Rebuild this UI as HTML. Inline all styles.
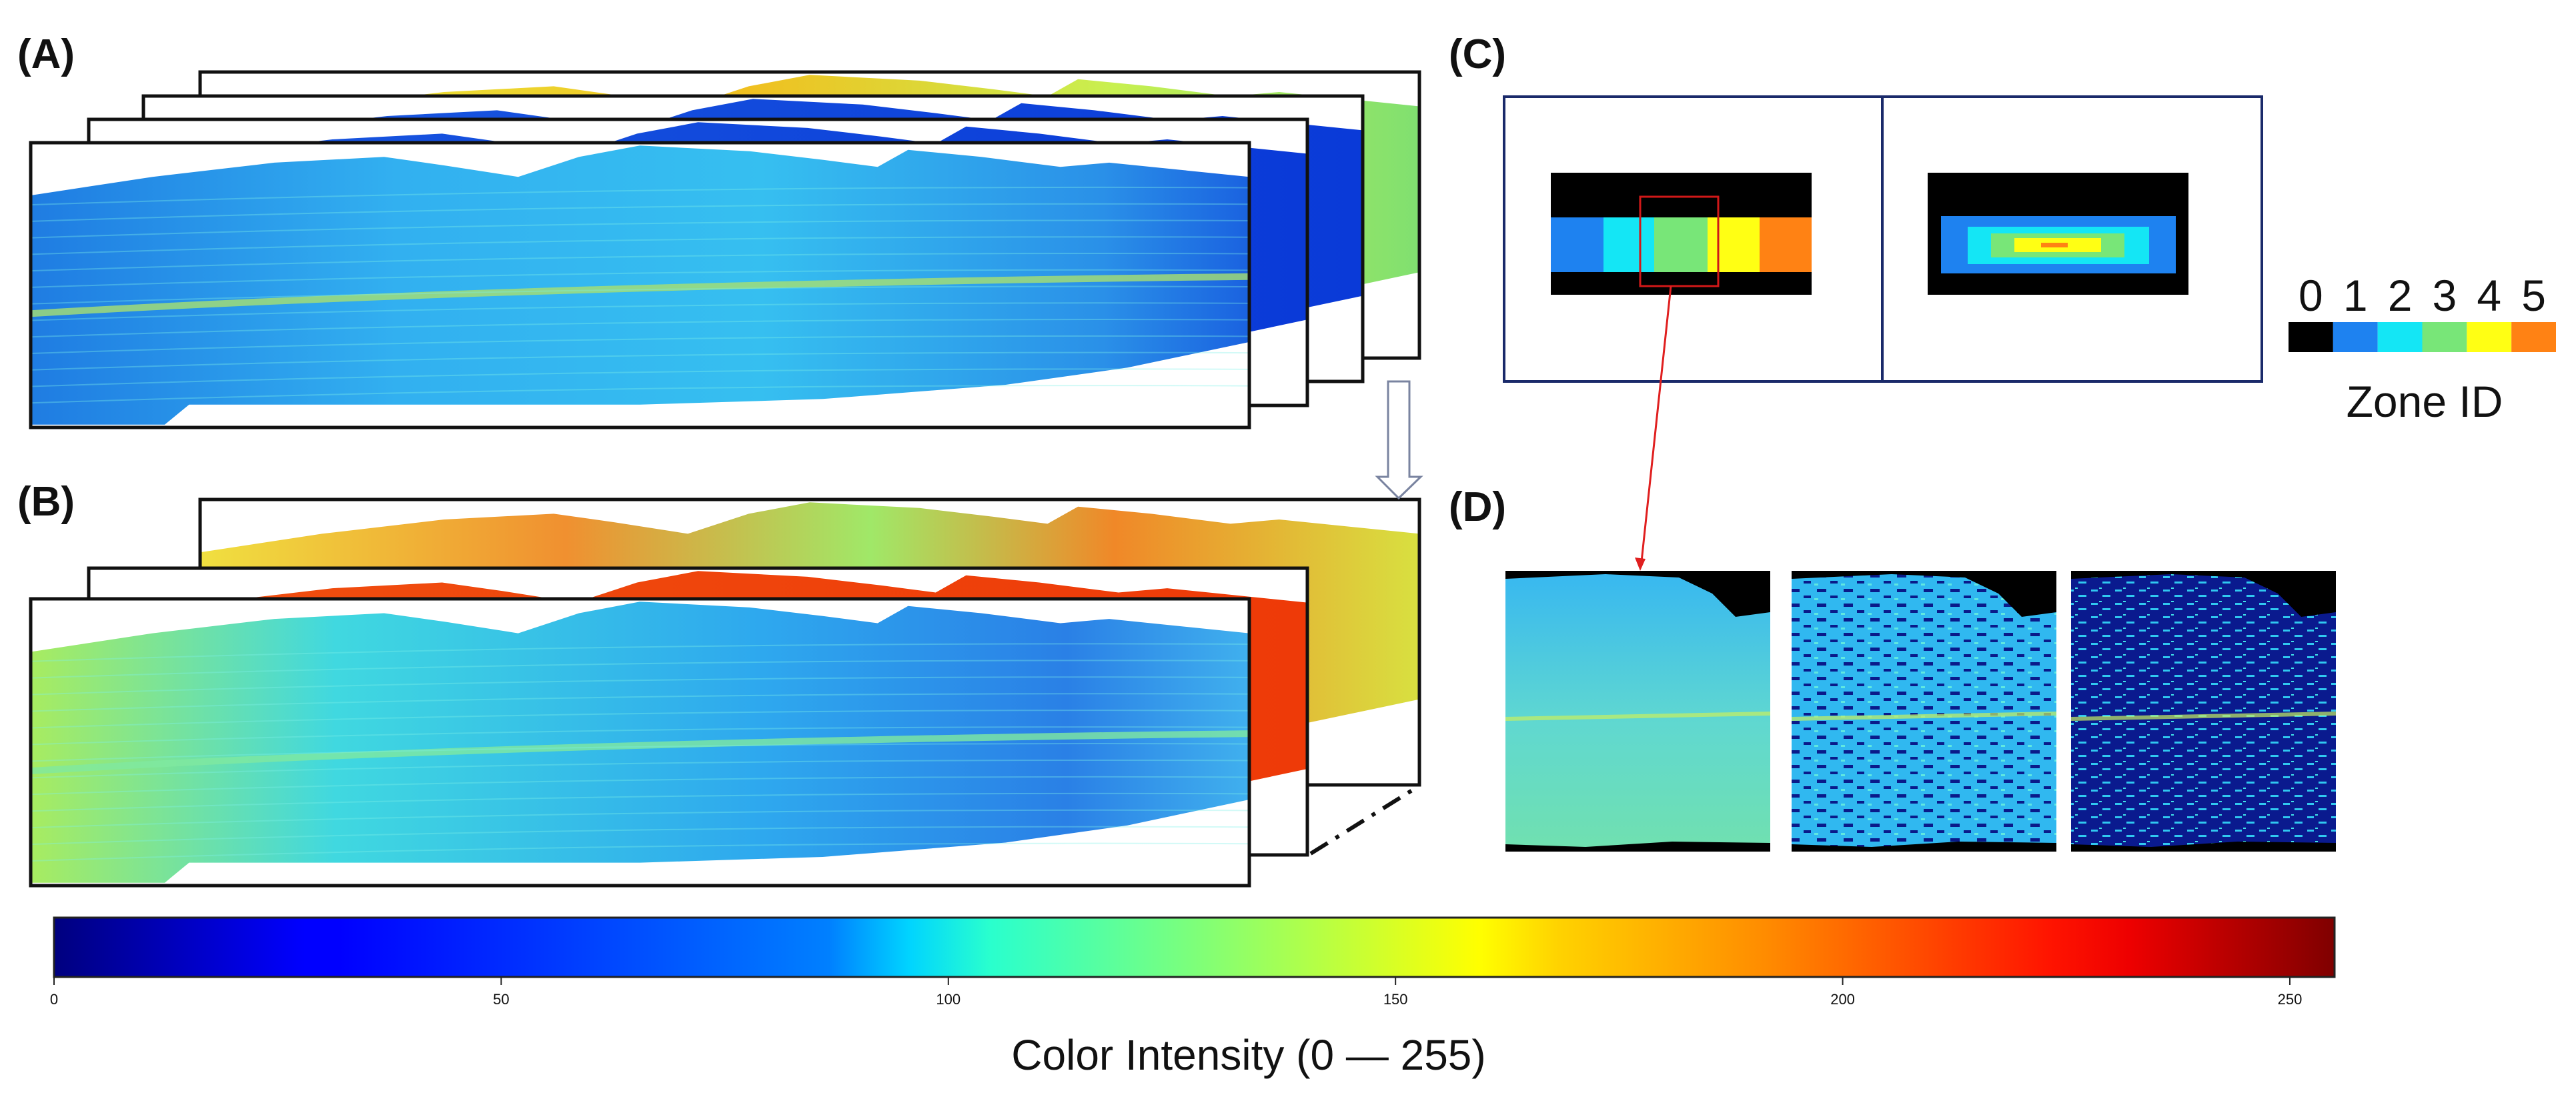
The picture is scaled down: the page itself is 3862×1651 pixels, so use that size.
<!DOCTYPE html>
<html><head><meta charset="utf-8"><style>
html,body{margin:0;padding:0;background:#fff}
svg{display:block}
text{font-family:"Liberation Sans",sans-serif}
</style></head><body>
<svg id="fig" width="3862" height="1651" viewBox="0 0 3862 1651" xmlns="http://www.w3.org/2000/svg">
<defs>
<linearGradient id="jet" x1="0" x2="1" y1="0" y2="0">
<stop offset="0" stop-color="#00007f"/><stop offset="0.11" stop-color="#0000ff"/><stop offset="0.125" stop-color="#0000ff"/>
<stop offset="0.34" stop-color="#0080ff"/><stop offset="0.375" stop-color="#00d4ff"/><stop offset="0.41" stop-color="#29ffce"/>
<stop offset="0.5" stop-color="#7dff7a"/><stop offset="0.625" stop-color="#ffff00"/><stop offset="0.66" stop-color="#ffd200"/>
<stop offset="0.75" stop-color="#ff8c00"/><stop offset="0.875" stop-color="#ff1400"/><stop offset="0.91" stop-color="#ee0000"/><stop offset="1" stop-color="#7f0000"/>
</linearGradient>
<linearGradient id="gA" x1="0" x2="1"><stop offset="0" stop-color="#1f7ce2"/><stop offset="0.3" stop-color="#32b0f0"/><stop offset="0.6" stop-color="#36bff0"/><stop offset="0.88" stop-color="#2a90e8"/><stop offset="1" stop-color="#1a62e0"/></linearGradient>
<linearGradient id="gDark" x1="0" x2="1"><stop offset="0" stop-color="#1a5ae0"/><stop offset="1" stop-color="#0a3ad8"/></linearGradient>
<linearGradient id="gYel" x1="0" x2="1"><stop offset="0" stop-color="#e8f040"/><stop offset="0.45" stop-color="#f0c020"/><stop offset="0.75" stop-color="#c8f050"/><stop offset="1" stop-color="#80e070"/></linearGradient>
<linearGradient id="gB3" x1="0" x2="1"><stop offset="0" stop-color="#f0e040"/><stop offset="0.3" stop-color="#f09030"/><stop offset="0.55" stop-color="#a0e868"/><stop offset="0.75" stop-color="#f08828"/><stop offset="1" stop-color="#d8e040"/></linearGradient>
<linearGradient id="gB2" x1="0" x2="1"><stop offset="0" stop-color="#f05010"/><stop offset="1" stop-color="#ee3a08"/></linearGradient>
<linearGradient id="gB1" x1="0" x2="1"><stop offset="0" stop-color="#a8ec60"/><stop offset="0.25" stop-color="#40d8e0"/><stop offset="0.6" stop-color="#2ea8ee"/><stop offset="0.85" stop-color="#2a80e6"/><stop offset="1" stop-color="#40b0ee"/></linearGradient>
<linearGradient id="gD1" x1="0" x2="0" y1="0" y2="1"><stop offset="0" stop-color="#38b8f0"/><stop offset="0.55" stop-color="#60d8d0"/><stop offset="1" stop-color="#70e0b0"/></linearGradient>
<pattern id="pMid" width="40" height="22" patternUnits="userSpaceOnUse">
<rect width="40" height="22" fill="#30b8f0"/><rect x="4" y="3" width="14" height="5" fill="#0a1a8a"/><rect x="24" y="13" width="11" height="4" fill="#0a1a8a"/><rect x="0" y="17" width="6" height="3" fill="#60e8e0"/></pattern>
<pattern id="pDark" width="36" height="20" patternUnits="userSpaceOnUse">
<rect width="36" height="20" fill="#0a1a8e"/><rect x="3" y="4" width="10" height="3" fill="#30c8f0"/><rect x="20" y="12" width="12" height="3" fill="#30c8f0"/><rect x="15" y="1" width="4" height="2" fill="#40e0e8"/></pattern>
</defs>
<g id="panels"></g>
<g id="overlay"></g>
</svg>
<script>
const cbTickValues=[0,50,100,150,200,250];
const cbMin=0, cbMax=255;
const zoneIds=[0,1,2,3,4,5];
const zoneColors=["#000000","#1e82f0","#14e6f5","#78e678","#ffff14","#ff8214"];
const NS="http://www.w3.org/2000/svg";
const P=document.getElementById('panels');
function mk(t,a,par){const e=document.createElementNS(NS,t);for(const k in a)e.setAttribute(k,a[k]);(par||P).appendChild(e);return e;}
const leafTop=[[0,.185],[.1,.12],[.2,.07],[.29,.05],[.34,.08],[.40,.12],[.45,.05],[.5,.01],[.59,.03],[.65,.06],[.695,.085],[.72,.025],[.78,.05],[.845,.085],[.885,.07],[1,.12]];
const leafBot=[[1,.70],[.9,.79],[.8,.85],[.65,.9],[.5,.92],[.27,.92],[.13,.92],[.11,.99],[0,.99]];
let cid=0;
function frame(x,y,w,h,fill,name,mid){
 const g=mk('g',{});
 
 
 mk('rect',{x:x,y:y,width:w,height:h,fill:'#fff'},g);
 const id='c'+(cid++);
 const cp=mk('clipPath',{id:id},g);mk('rect',{x:x,y:y,width:w,height:h},cp);
 const pts=leafTop.concat(leafBot).map(p=>(x+p[0]*w).toFixed(1)+','+(y+p[1]*h).toFixed(1)).join(' ');
 const cg=mk('g',{'clip-path':'url(#'+id+')'},g);
 const leaf=mk('polygon',{points:pts,fill:fill},cg);
 
 
 if(mid){mk('path',{d:`M${x} ${y+h*.6} Q${x+w*.4} ${y+h*.5} ${x+w} ${y+h*.47}`,stroke:mid,'stroke-width':10,fill:'none',opacity:.8},cg);
  for(let i=1;i<14;i++){const v=.12+i*.058;mk('path',{d:`M${x} ${y+h*(v+.04)} Q${x+w*.5} ${y+h*(v-.03)} ${x+w} ${y+h*(v-.02)}`,stroke:'#7ef0e8','stroke-width':2,fill:'none',opacity:.35},cg);}}
 mk('rect',{x:x,y:y,width:w,height:h,fill:'none',stroke:'#111','stroke-width':5},g);
}
frame(300,108,1828,429,'url(#gYel)','frame-a4');
frame(215,144,1828,428,'url(#gDark)','frame-a3');
frame(133,179,1827,429,'url(#gDark)','frame-a2');
frame(46,214,1827,427,'url(#gA)','frame-a1','#a8e070');
frame(300,749,1828,428,'url(#gB3)','frame-b3');
frame(133,852,1827,430,'url(#gB2)','frame-b2');
frame(46,898,1827,430,'url(#gB1)','frame-b1','#80e8a0');
const O=document.getElementById('overlay');
const ar=mk('path',{d:'M2081 572 L2113 572 L2113 715 L2130 715 L2097 747 L2065 715 L2081 715 Z',fill:'#fff',stroke:'#7a84a0','stroke-width':3},O);


const dd=mk('line',{x1:1965,y1:1280,x2:2122,y2:1182,stroke:'#111','stroke-width':6,'stroke-dasharray':'30 14 6 14'},O);


function label(txt,x,y,name,size,weight,anchor){const t=mk('text',{x:x,y:y,'font-size':size||62,'font-weight':weight||'bold','text-anchor':anchor||'start',fill:'#111'},O);t.textContent=txt;
 
 return t;}
label('(A)',26,102,'panel-a-label');label('(B)',26,773,'panel-b-label');label('(C)',2172,102,'panel-c-label');label('(D)',2172,781,'panel-d-label');
const cbox=mk('rect',{x:2255,y:145,width:1136,height:427,fill:'#fff',stroke:'#1a2a6a','stroke-width':4},O);


mk('line',{x1:2822,y1:145,x2:2822,y2:572,stroke:'#1a2a6a','stroke-width':4},O);
mk('rect',{x:2325,y:259,width:391,height:183,fill:'#000'},O);
const zl=[[2325,2404],[2404,2480],[2480,2560],[2560,2638],[2638,2716]];
zl.forEach((z,i)=>{const r=mk('rect',{x:z[0],y:326,width:z[1]-z[0],height:82,fill:zoneColors[i+1]},O);
 
 });
mk('rect',{x:2459,y:295,width:117,height:134,fill:'none',stroke:'#d01818','stroke-width':3},O);
mk('rect',{x:2890,y:259,width:391,height:183,fill:'#000'},O);
const rz=[[2910,3262,324,410,1],[2950,3222,340,396,2],[2985,3185,350,386,3],[3020,3150,357,378,4],[3060,3100,364,371,5]];
rz.forEach(z=>{const r=mk('rect',{x:z[0],y:z[2],width:z[1]-z[0],height:z[3]-z[2],fill:zoneColors[z[4]]},O);
 
 });
mk('line',{x1:2505,y1:429,x2:2461,y2:842,stroke:'#e02020','stroke-width':3},O);
mk('path',{d:'M2459 856 L2451 836 L2467 838 Z',fill:'#e02020'},O);
const zx0=3431, zw=401/zoneIds.length;
zoneIds.forEach((z,i)=>{const r=mk('rect',{x:zx0+i*zw,y:483,width:zw,height:45,fill:zoneColors[i]},O);
 
 
 label(String(z),zx0+i*zw+zw/2,466,'zone-tick-'+z,66,'normal','middle');});
label('Zone ID',3635,625,'zone-colorbar-title',66,'normal','middle');
const dp=[[2257,'url(#gD1)','roi-intensity-map'],[2686,'url(#pMid)','roi-threshold-map-1'],[3105,'url(#pDark)','roi-threshold-map-2']];
dp.forEach(d=>{const g=mk('g',{},O);
 
 
 mk('rect',{x:d[0],y:856,width:397,height:421,fill:'#000'},g);
 mk('path',{d:`M${d[0]} 868 L${d[0]+150} 861 L${d[0]+260} 866 L${d[0]+310} 890 L${d[0]+345} 925 L${d[0]+397} 918 L${d[0]+397} 1264 L${d[0]+250} 1262 L${d[0]+120} 1270 L${d[0]} 1266 Z`,fill:d[1]},g);
 mk('line',{x1:d[0],y1:1078,x2:d[0]+397,y2:1070,stroke:'#c8f060','stroke-width':6,opacity:.7},g);});
const cbX0=81, cbX1=3500, cbY=1376, cbH=89;
const xs=v=>cbX0+(v-cbMin)/(cbMax-cbMin)*(cbX1-cbX0);
const cb=mk('rect',{x:cbX0,y:cbY,width:cbX1-cbX0,height:cbH,fill:'url(#jet)',stroke:'#222','stroke-width':3},O);


cbTickValues.forEach(v=>{const l=mk('line',{x1:xs(v),y1:cbY+cbH,x2:xs(v),y2:cbY+cbH+12,stroke:'#222','stroke-width':2},O);
 
 
 label(String(v),xs(v),1506,'colorbar-tick-label-'+v,22,'normal','middle');});
label('Color Intensity (0 \u2014 255)',1872,1604,'colorbar-title',64,'normal','middle');
</script>
</body></html>
